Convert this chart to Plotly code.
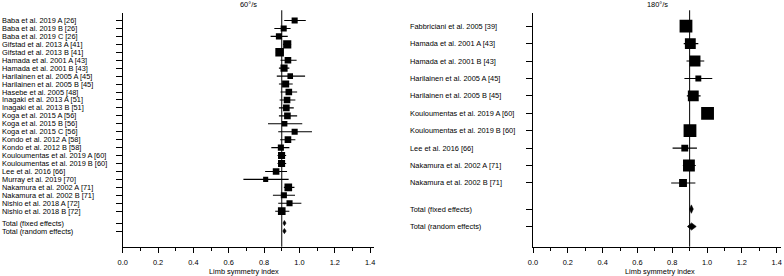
import plotly.graph_objects as go

# ---------------- data: 60°/s ----------------
labels_60 = [
    "Baba et al. 2019 A [26]", "Baba et al. 2019 B [26]", "Baba et al. 2019 C [26]",
    "Gifstad et al. 2013 A [41]", "Gifstad et al. 2013 B [41]",
    "Hamada et al. 2001 A [43]", "Hamada et al. 2001 B [43]",
    "Harilainen et al. 2005 A [45]", "Harilainen et al. 2005 B [45]",
    "Hasebe et al. 2005 [48]",
    "Inagaki et al. 2013 A [51]", "Inagaki et al. 2013 B [51]",
    "Koga et al. 2015 A [56]", "Koga et al. 2015 B [56]", "Koga et al. 2015 C [56]",
    "Kondo et al. 2012 A [58]", "Kondo et al. 2012 B [58]",
    "Kouloumentas et al. 2019 A [60]", "Kouloumentas et al. 2019 B [60]",
    "Lee et al. 2016 [66]", "Murray et al. 2019 [70]",
    "Nakamura et al. 2002 A [71]", "Nakamura et al. 2002 B [71]",
    "Nishio et al. 2018 A [72]", "Nishio et al. 2018 B [72]",
]
lsi_60 = [0.973, 0.911, 0.884, 0.931, 0.888, 0.935, 0.913, 0.948, 0.922, 0.940,
          0.930, 0.926, 0.932, 0.916, 0.973, 0.935, 0.895, 0.899, 0.899, 0.868,
          0.809, 0.937, 0.912, 0.944, 0.900]
lo_60 = [0.914, 0.858, 0.837, 0.907, 0.867, 0.893, 0.884, 0.872, 0.884, 0.893,
         0.888, 0.884, 0.884, 0.822, 0.880, 0.891, 0.841, 0.876, 0.876, 0.806,
         0.683, 0.912, 0.850, 0.880, 0.863]
hi_60 = [1.036, 0.950, 0.934, 0.953, 0.909, 0.984, 0.943, 1.032, 0.962, 0.987,
         0.977, 0.968, 0.987, 1.016, 1.071, 0.977, 0.943, 0.925, 0.925, 0.930,
         0.939, 0.972, 0.975, 1.011, 0.943]
weight_60 = [3.3, 3.3, 3.3, 5.9, 6.6, 3.9, 4.5, 2.8, 4.5, 3.9,
             3.9, 3.9, 3.9, 2.8, 3.3, 3.9, 3.3, 4.5, 4.5, 3.9,
             2.3, 5.2, 3.3, 3.3, 5.2]
pooled_labels = ["Total (fixed effects)", "Total (random effects)"]
pooled_60 = [0.915, 0.915]
pooled_lo_60 = [0.907, 0.906]
pooled_hi_60 = [0.924, 0.925]

# ---------------- data: 180°/s ----------------
labels_180 = [
    "Fabbriciani et al. 2005 [39]",
    "Hamada et al. 2001 A [43]", "Hamada et al. 2001 B [43]",
    "Harilainen et al. 2005 A [45]", "Harilainen et al. 2005 B [45]",
    "Kouloumentas et al. 2019 A [60]", "Kouloumentas et al. 2019 B [60]",
    "Lee et al. 2016 [66]",
    "Nakamura et al. 2002 A [71]", "Nakamura et al. 2002 B [71]",
]
lsi_180 = [0.879, 0.904, 0.931, 0.950, 0.921, 1.003, 0.902, 0.872, 0.896, 0.862]
lo_180 = [0.860, 0.866, 0.882, 0.870, 0.884, 0.982, 0.882, 0.802, 0.861, 0.794]
hi_180 = [0.896, 0.950, 0.984, 1.030, 0.963, 1.022, 0.921, 0.942, 0.935, 0.933]
weight_180 = [14.6, 10.5, 10.5, 3.1, 10.5, 14.6, 14.6, 4.2, 12.5, 5.5]
pooled_180 = [0.910, 0.911]
pooled_lo_180 = [0.899, 0.887]
pooled_hi_180 = [0.921, 0.938]

ref_value = 0.9
x_tick_values = [0.0, 0.2, 0.4, 0.6, 0.8, 1.0, 1.2, 1.4]
panel_titles = ["60°/s", "180°/s"]
x_title = "Limb symmetry index"

# ---------------- styling / layout ----------------
W, H = 784, 276
FONT = "Liberation Sans, Arial, Helvetica, sans-serif"
FS = 7.4
size_scale = 3.35

def px_x(p):
    return p / W

def px_y(p):
    return 1 - p / H

y_top_px, y_bot_px = 13.3, 246.7
panels = [
    dict(labels=labels_60, est=lsi_60, lo=lo_60, hi=hi_60, w=weight_60,
         pest=pooled_60, plo=pooled_lo_60, phi=pooled_hi_60,
         xd=(122.7, 374.0), xr=(0, 1.422), yr=(28.47, -0.906), row_px=7.946,
         dia_h_px=[2.6, 2.6], label_x=1.0, title=panel_titles[0], xtitle_px=244),
    dict(labels=labels_180, est=lsi_180, lo=lo_180, hi=hi_180, w=weight_180,
         pest=pooled_180, plo=pooled_lo_180, phi=pooled_hi_180,
         xd=(533.0, 781.0), xr=(0, 1.425), yr=(12.66, -0.74), row_px=17.42,
         dia_h_px=[4.2, 3.6], label_x=409.3, title=panel_titles[1], xtitle_px=660),
]

fig = go.Figure()
annotations = []
shapes = []

for i, p in enumerate(panels):
    sfx = "" if i == 0 else str(i + 1)
    xa, ya = "x" + sfx, "y" + sfx
    n = len(p["labels"])
    rows = list(range(n))
    pooled_rows = [n + 0.5, n + 1.5]

    # study CIs and squares
    fig.add_trace(go.Scatter(
        x=p["est"], y=rows, mode="markers",
        marker=dict(symbol="square", color="black", opacity=1,
                    size=[size_scale * (w ** 0.5) for w in p["w"]],
                    line=dict(width=0)),
        error_x=dict(type="data", symmetric=False,
                     array=[h - e for h, e in zip(p["hi"], p["est"])],
                     arrayminus=[e - l for e, l in zip(p["est"], p["lo"])],
                     color="black", thickness=1.1, width=0),
        xaxis=xa, yaxis=ya, showlegend=False, hoverinfo="skip"))

    # pooled diamonds
    for k in range(2):
        hh = p["dia_h_px"][k] / p["row_px"]
        r = pooled_rows[k]
        fig.add_trace(go.Scatter(
            x=[p["plo"][k], p["pest"][k], p["phi"][k], p["pest"][k], p["plo"][k]],
            y=[r, r - hh, r, r + hh, r],
            mode="lines", fill="toself", fillcolor="black",
            line=dict(color="black", width=0.6),
            xaxis=xa, yaxis=ya, showlegend=False, hoverinfo="skip"))

    # reference line
    shapes.append(dict(type="line", xref=xa, yref=ya + " domain",
                       x0=ref_value, x1=ref_value, y0=0, y1=1.013,
                       line=dict(color="black", width=1)))

    dom_x = [px_x(p["xd"][0]), px_x(p["xd"][1])]
    dom_y = [px_y(y_bot_px), px_y(y_top_px)]
    xkey = "xaxis" + sfx
    ykey = "yaxis" + sfx
    fig.update_layout(**{
        xkey: dict(domain=dom_x, range=list(p["xr"]), anchor=ya, automargin=False,
                   tickmode="array", tickvals=x_tick_values,
                   ticktext=[f"{v:.1f}" for v in x_tick_values],
                   ticks="outside", ticklen=5, tickwidth=1, tickcolor="black",
                   minor=dict(dtick=0.1, tick0=0, ticks="outside", ticklen=3,
                              tickwidth=1, tickcolor="black", showgrid=False),
                   showline=True, linecolor="black", linewidth=1,
                   showgrid=False, zeroline=False,
                   tickfont=dict(family=FONT, size=FS, color="black"),
                   ticklabelstandoff=3, fixedrange=True),
        ykey: dict(domain=dom_y, range=list(p["yr"]), anchor=xa, automargin=False,
                   tickmode="array", tickvals=rows + pooled_rows,
                   showticklabels=False, ticks="outside", ticklen=6,
                   tickwidth=1, tickcolor="black",
                   showline=True, linecolor="black", linewidth=1,
                   showgrid=False, zeroline=False, fixedrange=True),
    })

    # row labels (left aligned)
    for lbl, r in zip(p["labels"] + pooled_labels, rows + pooled_rows):
        annotations.append(dict(text=lbl, xref="paper", yref=ya,
                                x=px_x(p["label_x"]), y=r, xanchor="left",
                                yanchor="middle", showarrow=False, borderpad=0,
                                font=dict(family=FONT, size=FS, color="black")))
    # panel title
    annotations.append(dict(text=p["title"], xref=xa + " domain", yref="paper",
                            x=0.5, y=px_y(4.5), xanchor="center", yanchor="middle",
                            showarrow=False, borderpad=0,
                            font=dict(family=FONT, size=FS, color="black")))
    # x axis title
    annotations.append(dict(text=x_title, xref="paper", yref="paper",
                            x=px_x(p["xtitle_px"]), y=px_y(271.3),
                            xanchor="center", yanchor="middle", showarrow=False,
                            borderpad=0,
                            font=dict(family=FONT, size=FS, color="black")))

fig.update_layout(template="none", width=W, height=H,
                  margin=dict(l=0, r=0, t=0, b=0, autoexpand=False),
                  paper_bgcolor="white", plot_bgcolor="white",
                  annotations=annotations, shapes=shapes,
                  font=dict(family=FONT, size=FS, color="black"))

# remove the browser's default 8px page margin so the figure sits at (0, 0)
fig.write_html("out.html",
               config={"displayModeBar": False, "staticPlot": True},
               post_script="document.body.style.margin='0';document.body.style.overflow='hidden';")
